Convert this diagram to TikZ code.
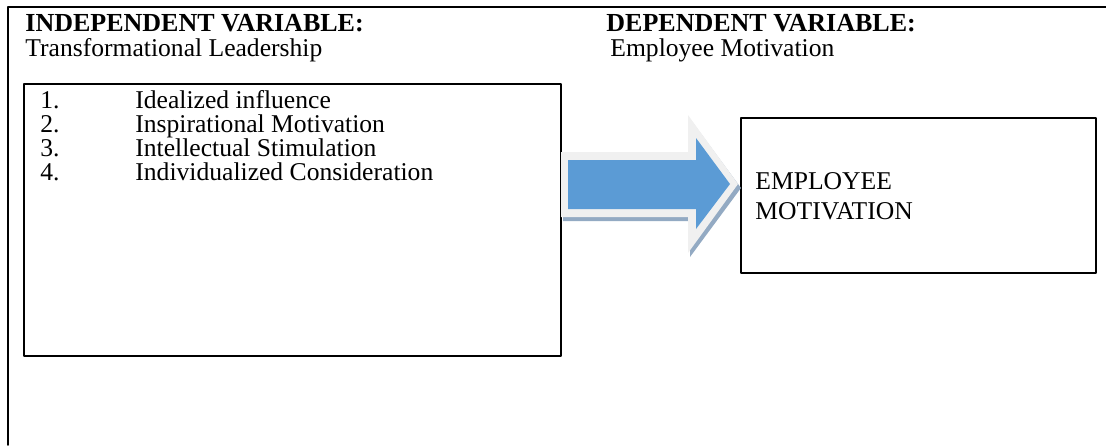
\documentclass[tikz,border=0pt]{standalone}
\usepackage{fontspec}
\setmainfont{Liberation Serif}
\definecolor{arrblue}{HTML}{5B9BD5}
\definecolor{arrrim}{HTML}{F0F0F0}
\definecolor{arrshade}{HTML}{93AAC3}
\begin{document}
\begin{tikzpicture}[line cap=round,line join=round,x=0.5pt,y=-0.5pt,
    txt/.style={anchor=base west,inner sep=0pt,text height=9pt,text depth=0.5pt,font=\fontsize{12.8}{15}\selectfont},
    head/.style={txt,font=\fontsize{13}{15}\selectfont\bfseries},
    box/.style={draw,line width=1pt,anchor=north west,inner sep=0pt}]
        \useasboundingbox (0,0) rectangle (1106,445);
        \draw [line width=0.8pt] (1106,7) -- (8,7) -- (8,445);
        % headings
        \node (ivhead) [head] at (25,31) {INDEPENDENT VARIABLE:};
        \node (ivname) [txt] at (25,56) {Transformational Leadership};
        \node (dvhead) [head] at (606,31) {DEPENDENT VARIABLE:};
        \node (dvname) [txt] at (610,56) {Employee Motivation};
        % boxes
        \node (ivbox) [box,minimum width=268.5pt,minimum height=136pt] at (23,83) {};
        \node (dvbox) [box,minimum width=177.5pt,minimum height=77.5pt] at (740,117) {};
        % list
        \node (n1) [txt] at (40,108) {1.};
        \node (n2) [txt] at (40,132) {2.};
        \node (n3) [txt] at (40,156) {3.};
        \node (n4) [txt] at (40,180) {4.};
        \node (d1) [txt] at (135,108) {Idealized influence};
        \node (d2) [txt] at (135,132) {Inspirational Motivation};
        \node (d3) [txt] at (135,156) {Intellectual Stimulation};
        \node (d4) [txt] at (135,180) {Individualized Consideration};
        \node (emp) [txt] at (755,189) {EMPLOYEE};
        \node (mot) [txt] at (755,219) {MOTIVATION};
        % block arrow
        \fill [arrshade] (563,156) -- (690,156) -- (690,119) -- (741,188) -- (690,257) -- (690,221) -- (563,221) -- cycle;
        \fill [arrrim] (561,152) -- (688,152) -- (688,115) -- (738,184) -- (688,253) -- (688,217) -- (561,217) -- cycle;
        \fill [arrblue] (568,160) -- (696,160) -- (696,138) -- (730,184) -- (696,229) -- (696,209) -- (568,209) -- cycle;
\end{tikzpicture}
\end{document}
